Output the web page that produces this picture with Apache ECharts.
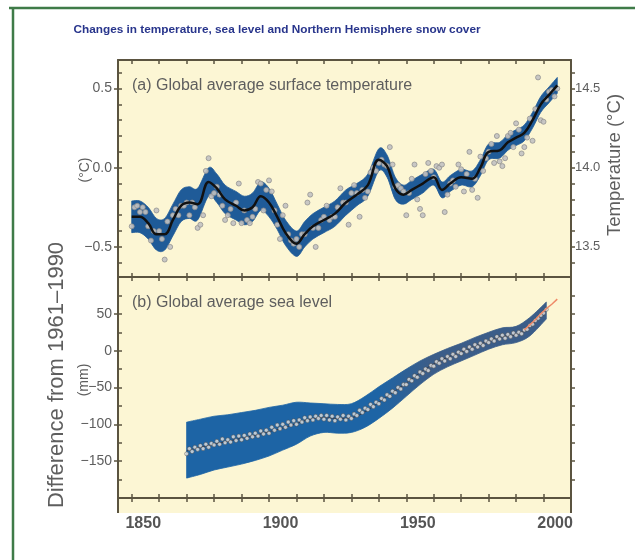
<!DOCTYPE html>
<html>
<head>
<meta charset="utf-8">
<script src="https://cdn.jsdelivr.net/npm/echarts@6/dist/echarts.min.js"></script>
<style>
  html, body { margin: 0; padding: 0; background: #ffffff; }
  #chart { width: 635px; height: 560px; }
</style>
</head>
<body>
<div id="chart"></div>
<script>
// ---- Global average surface temperature (°C, difference from 1961–1990) ----
const tempFirstYear = 1850;
const tempAnnual = [
  -0.37, -0.25, -0.24, -0.28, -0.25, -0.28, -0.37, -0.46, -0.40, -0.27,
  -0.40, -0.45, -0.58, -0.34, -0.50, -0.30, -0.26, -0.30, -0.24, -0.24,
  -0.22, -0.30, -0.22, -0.25, -0.38, -0.36, -0.30, -0.02, 0.06, -0.18,
  -0.16, -0.12, -0.17, -0.24, -0.33, -0.30, -0.26, -0.35, -0.22, -0.10,
  -0.35, -0.27, -0.33, -0.35, -0.31, -0.26, -0.09, -0.10, -0.27, -0.14,
  -0.08, -0.15, -0.27, -0.36, -0.45, -0.30, -0.24, -0.42, -0.46, -0.48,
  -0.45, -0.50, -0.42, -0.42, -0.22, -0.17, -0.38, -0.50, -0.38, -0.33,
  -0.31, -0.24, -0.33, -0.31, -0.31, -0.25, -0.13, -0.22, -0.22, -0.36,
  -0.16, -0.11, -0.16, -0.31, -0.14, -0.19, -0.15, -0.03, 0.00, -0.02,
  0.03, 0.05, 0.02, 0.01, 0.13, 0.02, -0.12, -0.11, -0.13, -0.15,
  -0.30, -0.16, -0.07, 0.02, -0.20, -0.26, -0.30, -0.04, 0.03, -0.02,
  -0.06, 0.01, 0.00, 0.02, -0.28, -0.17, -0.10, -0.08, -0.12, 0.02,
  -0.01, -0.15, -0.04, 0.10, -0.14, -0.07, -0.19, 0.07, -0.02, 0.06,
  0.10, 0.15, 0.03, 0.20, 0.04, 0.01, 0.06, 0.20, 0.22, 0.13,
  0.28, 0.24, 0.09, 0.13, 0.19, 0.31, 0.17, 0.37, 0.57, 0.30,
  0.29, 0.43, 0.48, 0.49, 0.45, 0.50
];
// Decadal smoothed curve and its uncertainty range
const tempSmoothYears = [
  1850, 1853, 1856, 1859, 1862, 1865, 1868, 1871, 1874, 1878, 1881, 1884,
  1888, 1891, 1894, 1897, 1900, 1903, 1906, 1910, 1913, 1916, 1920, 1924,
  1928, 1932, 1936, 1940, 1943, 1946, 1949, 1952, 1956, 1960, 1963, 1966,
  1970, 1974, 1977, 1980, 1984, 1987, 1990, 1993, 1996, 1999, 2002, 2005
];
const tempSmooth = [
  -0.31, -0.31, -0.35, -0.42, -0.42, -0.33, -0.24, -0.22, -0.23, -0.09, -0.13, -0.20,
  -0.24, -0.27, -0.25, -0.18, -0.22, -0.31, -0.41, -0.48, -0.42, -0.37, -0.33, -0.29,
  -0.22, -0.17, -0.11, 0.05, 0.01, -0.13, -0.17, -0.14, -0.10, -0.06, -0.14, -0.10,
  -0.06, -0.07, 0.00, 0.10, 0.11, 0.16, 0.19, 0.22, 0.30, 0.40, 0.46, 0.52
];
const tempBandLow = [
  -0.41, -0.41, -0.45, -0.52, -0.52, -0.43, -0.34, -0.32, -0.33, -0.18, -0.22, -0.29,
  -0.33, -0.36, -0.34, -0.27, -0.31, -0.39, -0.49, -0.56, -0.50, -0.45, -0.41, -0.37,
  -0.30, -0.24, -0.18, -0.02, -0.06, -0.20, -0.23, -0.20, -0.16, -0.11, -0.19, -0.15,
  -0.11, -0.12, -0.05, 0.05, 0.06, 0.11, 0.14, 0.17, 0.25, 0.35, 0.41, 0.47
];
const tempBandHigh = [
  -0.21, -0.21, -0.25, -0.32, -0.32, -0.23, -0.14, -0.12, -0.13, 0.00, -0.04, -0.11,
  -0.15, -0.18, -0.16, -0.09, -0.13, -0.23, -0.33, -0.40, -0.34, -0.29, -0.25, -0.21,
  -0.14, -0.10, -0.04, 0.12, 0.08, -0.06, -0.11, -0.08, -0.04, -0.01, -0.09, -0.05,
  -0.01, -0.02, 0.05, 0.15, 0.16, 0.21, 0.24, 0.27, 0.35, 0.45, 0.51, 0.57
];

// ---- Global average sea level (mm, difference from 1961–1990) ----
const seaFirstYear = 1870;
const seaAnnual = [
  -140, -133, -137, -131, -134, -129, -133, -127, -131, -126,
  -128, -123, -127, -120, -125, -121, -124, -117, -122, -116,
  -121, -115, -119, -113, -117, -112, -116, -109, -113, -108,
  -112, -104, -108, -101, -106, -100, -104, -97, -101, -95,
  -100, -94, -97, -91, -95, -90, -94, -89, -92, -88,
  -93, -88, -94, -89, -95, -90, -93, -88, -94, -89,
  -92, -86, -88, -81, -84, -78, -80, -73, -76, -70,
  -72, -65, -67, -60, -62, -55, -57, -50, -52, -46,
  -46, -39, -41, -34, -36, -29, -31, -25, -27, -20,
  -21, -15, -17, -11, -14, -8, -11, -5, -8, -2,
  -4, 2, -1, 5, 2, 8, 5, 10, 7, 13,
  11, 16, 13, 19, 16, 21, 17, 22, 19, 24,
  21, 25, 23, 28, 29, 34, 36, 41, 44, 48,
  51, 56
];
const seaSmoothYears = [
  1870, 1875, 1880, 1885, 1890, 1895, 1900, 1905, 1910, 1915, 1920, 1925, 1930, 1935,
  1940, 1945, 1950, 1955, 1960, 1965, 1970, 1975, 1980, 1985, 1990, 1995, 2001
];
const seaSmooth = [
  -136, -131, -127, -123, -119, -115, -110, -105, -99, -93, -91, -92, -91, -83,
  -70, -57, -44, -30, -18, -9, -2, 6, 13, 19, 22, 32, 55
];
const seaBandLow = [
  -173, -168, -162, -158, -154, -149, -143, -135, -127, -116, -111, -112, -111, -104,
  -92, -78, -62, -46, -32, -22, -14, -6, 2, 8, 11, 20, 43
];
const seaBandHigh = [
  -97, -93, -89, -87, -84, -81, -77, -74, -70, -71, -72, -73, -72, -62,
  -49, -37, -25, -14, -5, 3, 10, 18, 25, 31, 33, 45, 66
];
// Satellite altimetry
const satYears = [1993, 1995, 1997, 1999, 2001, 2003, 2005];
const satLevel = [28, 35, 42, 50, 57, 63, 70];

// ---- Axis ticks and labels ----
const yearTicks = [1850, 1860, 1870, 1880, 1890, 1900, 1910, 1920, 1930, 1940, 1950, 1960, 1970, 1980, 1990, 2000];
const yearLabels = [1850, 1900, 1950, 2000];
const tempMinorTicks = [-0.6, -0.5, -0.4, -0.3, -0.2, -0.1, 0, 0.1, 0.2, 0.3, 0.4, 0.5, 0.6];
const tempLabelValues = [-0.5, 0, 0.5];
const absTempMinorTicks = [13.4, 13.5, 13.6, 13.7, 13.8, 13.9, 14.0, 14.1, 14.2, 14.3, 14.4, 14.5, 14.6];
const absTempLabelValues = [13.5, 14.0, 14.5];
const seaMinorTicks = [-175, -150, -125, -100, -75, -50, -25, 0, 25, 50, 75];
const seaLabelValues = [-150, -100, -50, 0, 50];

// ---- Styling ----
const FONT = '"Liberation Sans", Arial, Helvetica, sans-serif';
const FRAME = '#5b5440';
const PAPER = '#fcf6d4';
const BAND_T = '#1f5b98';
const BAND_S = '#1d64a5';
const BAND_S_LATE = '#3b5d89';   // band tone where tide-gauge records overlap
const TEXT = '#5e5e5e';

const pairs = (xs, ys) => xs.map((x, i) => [x, ys[i]]);
const annualPairs = (first, ys) => ys.map((v, i) => [first + i, v]);

const X_MIN = 1845, X_MAX = 2010;
const tickStyle = { color: FRAME, width: 1.5 };
const lineStyle = { color: FRAME, width: 2 };

function xAxisCfg(gridIndex, position, inside, opts) {
  return Object.assign({
    type: 'value', gridIndex, position, min: X_MIN, max: X_MAX,
    splitLine: { show: false },
    axisLine: { show: true, onZero: false, lineStyle },
    axisTick: { show: true, inside, length: 4, customValues: yearTicks, lineStyle: tickStyle },
    axisLabel: { show: false }
  }, opts || {});
}

// Cubic Catmull-Rom segments through pixel points (path continues from pts[0])
function curveSegments(pts) {
  let d = '';
  for (let i = 0; i < pts.length - 1; i++) {
    const p0 = pts[Math.max(i - 1, 0)], p1 = pts[i], p2 = pts[i + 1], p3 = pts[Math.min(i + 2, pts.length - 1)];
    const c1x = p1[0] + (p2[0] - p0[0]) / 6, c1y = p1[1] + (p2[1] - p0[1]) / 6;
    const c2x = p2[0] - (p3[0] - p1[0]) / 6, c2y = p2[1] - (p3[1] - p1[1]) / 6;
    d += ' C' + c1x + ',' + c1y + ' ' + c2x + ',' + c2y + ' ' + p2[0] + ',' + p2[1];
  }
  return d;
}

// Uncertainty band: smooth upper and lower edges, straight ends.
// colorFn receives the pixel x-range of the band and returns the fill.
function bandSeries(xIdx, yIdx, xs, lo, hi, colorFn, z) {
  return {
    type: 'custom', xAxisIndex: xIdx, yAxisIndex: yIdx, z: z, silent: true,
    data: [0],
    renderItem: function (params, api) {
      const top = xs.map((x, i) => api.coord([x, hi[i]]));
      const bot = xs.map((x, i) => api.coord([x, lo[i]])).reverse();
      const d = 'M' + top[0][0] + ',' + top[0][1] + curveSegments(top) +
        ' L' + bot[0][0] + ',' + bot[0][1] + curveSegments(bot) + ' Z';
      const fill = colorFn(api);
      return {
        type: 'path',
        shape: { pathData: d },
        style: { fill: fill, stroke: fill, lineWidth: 0.8 }
      };
    }
  };
}

const tempBandColor = () => BAND_T;
const seaBandColor = api => {
  const xa = api.coord([1940, 0])[0], xb = api.coord([1958, 0])[0];
  return new echarts.graphic.LinearGradient(xa, 0, xb, 0, [
    { offset: 0, color: BAND_S },
    { offset: 1, color: BAND_S_LATE }
  ], true);
};

const option = {
  animation: false,
  backgroundColor: '#ffffff',
  grid: [
    { left: 118, top: 60, width: 453, height: 217 },
    { left: 118, top: 277, width: 453, height: 221 }
  ],
  xAxis: [
    xAxisCfg(0, 'bottom', true),
    xAxisCfg(0, 'top', true),
    xAxisCfg(1, 'top', true),
    xAxisCfg(1, 'bottom', true, {
      axisLabel: {
        show: true, customValues: yearLabels, margin: 18,
        padding: [0, 0, 0, 23], formatter: v => String(v),
        color: '#555555', fontFamily: FONT, fontSize: 16, fontWeight: 'bold'
      }
    }),
    xAxisCfg(1, 'bottom', false, { axisLine: { show: false, onZero: false } })
  ],
  yAxis: [
    {
      type: 'value', gridIndex: 0, position: 'left', min: -0.69, max: 0.68,
      splitLine: { show: false },
      axisLine: { show: true, onZero: false, lineStyle },
      axisTick: { show: true, inside: true, length: 4, customValues: tempMinorTicks, lineStyle: tickStyle },
      axisLabel: { show: false }
    },
    {
      type: 'value', gridIndex: 0, position: 'left', min: -0.69, max: 0.68,
      splitLine: { show: false },
      axisLine: { show: false, onZero: false },
      axisTick: { show: true, inside: false, length: 4, customValues: tempLabelValues, lineStyle: tickStyle },
      axisLabel: {
        show: true, customValues: tempLabelValues, margin: 6,
        formatter: v => (v < 0 ? '\u2212' : '') + Math.abs(v).toFixed(1),
        color: TEXT, fontFamily: FONT, fontSize: 14
      }
    },
    {
      type: 'value', gridIndex: 0, position: 'right', min: 13.31, max: 14.68,
      splitLine: { show: false },
      axisLine: { show: true, onZero: false, lineStyle },
      axisTick: { show: true, inside: false, length: 4, customValues: absTempMinorTicks, lineStyle: tickStyle },
      axisLabel: {
        show: true, customValues: absTempLabelValues, margin: 4,
        formatter: v => v.toFixed(1),
        color: TEXT, fontFamily: FONT, fontSize: 13
      }
    },
    {
      type: 'value', gridIndex: 1, position: 'left', min: -200, max: 100,
      splitLine: { show: false },
      axisLine: { show: true, onZero: false, lineStyle },
      axisTick: { show: true, inside: true, length: 4, customValues: seaMinorTicks, lineStyle: tickStyle },
      axisLabel: { show: false }
    },
    {
      type: 'value', gridIndex: 1, position: 'left', min: -200, max: 100,
      splitLine: { show: false },
      axisLine: { show: false, onZero: false },
      axisTick: { show: true, inside: false, length: 4, customValues: seaLabelValues, lineStyle: tickStyle },
      axisLabel: {
        show: true, customValues: seaLabelValues, margin: 6,
        formatter: v => (v < 0 ? '\u2212' : '') + Math.abs(v),
        color: TEXT, fontFamily: FONT, fontSize: 14
      }
    },
    {
      type: 'value', gridIndex: 1, position: 'right', min: -200, max: 100,
      splitLine: { show: false },
      axisLine: { show: true, onZero: false, lineStyle },
      axisTick: { show: true, inside: false, length: 4, customValues: seaMinorTicks, lineStyle: tickStyle },
      axisLabel: { show: false }
    }
  ],
  graphic: [
    { type: 'rect', z: -10, shape: { x: 118, y: 60, width: 453, height: 453 }, style: { fill: PAPER } },
    { type: 'line', z: 10, shape: { x1: 118, y1: 498, x2: 118, y2: 513 }, style: { stroke: FRAME, lineWidth: 2 } },
    { type: 'line', z: 10, shape: { x1: 571, y1: 498, x2: 571, y2: 513 }, style: { stroke: FRAME, lineWidth: 2 } },
    { type: 'line', shape: { x1: 9, y1: 8, x2: 635, y2: 8 }, style: { stroke: '#3f7b48', lineWidth: 2.5 } },
    { type: 'line', shape: { x1: 13, y1: 8, x2: 13, y2: 560 }, style: { stroke: '#3f7b48', lineWidth: 2.5 } },
    { type: 'text', x: 277, y: 30, style: {
        text: 'Changes in temperature, sea level and Northern Hemisphere snow cover',
        font: 'bold 11.8px ' + FONT, fill: '#28358c', align: 'center', verticalAlign: 'middle' } },
    { type: 'text', x: 132, y: 86, z: 20, style: {
        text: '(a) Global average surface temperature',
        font: '16px ' + FONT, fill: TEXT, align: 'left', verticalAlign: 'middle' } },
    { type: 'text', x: 132, y: 303, z: 20, style: {
        text: '(b) Global average sea level',
        font: '16px ' + FONT, fill: TEXT, align: 'left', verticalAlign: 'middle' } },
    { type: 'text', x: 85, y: 170, rotation: Math.PI / 2, style: {
        text: '(\u00b0C)', font: '14px ' + FONT, fill: TEXT, align: 'center', verticalAlign: 'middle' } },
    { type: 'text', x: 615, y: 165, rotation: Math.PI / 2, style: {
        text: 'Temperature (\u00b0C)', font: '18.5px ' + FONT, fill: TEXT, align: 'center', verticalAlign: 'middle' } },
    { type: 'text', x: 84, y: 380, rotation: Math.PI / 2, style: {
        text: '(mm)', font: '14px ' + FONT, fill: TEXT, align: 'center', verticalAlign: 'middle' } },
    { type: 'text', x: 57, y: 375, rotation: Math.PI / 2, style: {
        text: 'Difference from 1961\u20131990', font: '22px ' + FONT, fill: TEXT, align: 'center', verticalAlign: 'middle' } }
  ],
  series: [
    bandSeries(0, 0, tempSmoothYears, tempBandLow, tempBandHigh, tempBandColor, 2),
    {
      type: 'scatter', xAxisIndex: 0, yAxisIndex: 0, symbolSize: 5, z: 3,
      itemStyle: { color: '#c2c2c2', borderColor: '#8c8c8c', borderWidth: 0.8, opacity: 0.9 },
      data: annualPairs(tempFirstYear, tempAnnual)
    },
    {
      type: 'line', xAxisIndex: 0, yAxisIndex: 0, smooth: 0.4, symbol: 'none', z: 4,
      lineStyle: { color: '#111111', width: 2.5 }, data: pairs(tempSmoothYears, tempSmooth)
    },
    bandSeries(3, 3, seaSmoothYears, seaBandLow, seaBandHigh, seaBandColor, 2),
    {
      type: 'line', xAxisIndex: 3, yAxisIndex: 3, smooth: 0.4, symbol: 'none', z: 6,
      lineStyle: { color: '#2b3a55', width: 1 }, data: pairs(seaSmoothYears, seaSmooth)
    },
    {
      type: 'scatter', xAxisIndex: 3, yAxisIndex: 3, symbolSize: 4, z: 7,
      itemStyle: { color: '#e4e4e4', borderColor: '#4a4a4a', borderWidth: 0.6 },
      data: annualPairs(seaFirstYear, seaAnnual)
    },
    {
      type: 'line', xAxisIndex: 3, yAxisIndex: 3, symbol: 'none', z: 8,
      lineStyle: { color: '#ef8a68', width: 1.5 }, data: pairs(satYears, satLevel)
    }
  ]
};

const chart = echarts.init(document.getElementById('chart'), null, { renderer: 'canvas' });
chart.setOption(option);
</script>
</body>
</html>
